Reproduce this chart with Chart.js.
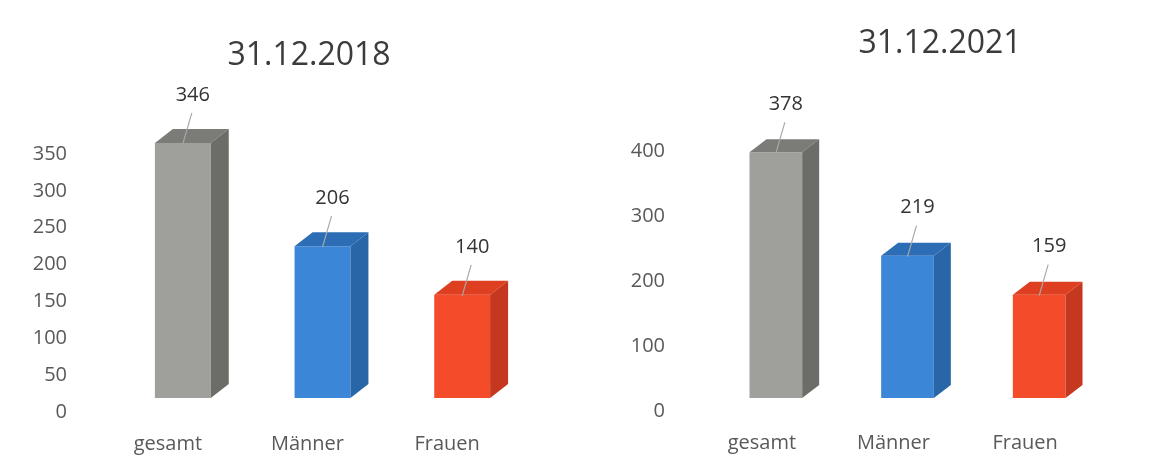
<!DOCTYPE html>
<html>
<head>
<meta charset="utf-8">
<script src="https://cdn.jsdelivr.net/npm/chart.js@4.4.1/dist/chart.umd.min.js"></script>
<style>
body{margin:0;background:#fff;width:1163px;height:468px;overflow:hidden;position:relative;font-family:"Open Sans",sans-serif}
.box{position:absolute;top:0;height:468px}
.title{position:absolute;font-size:32px;line-height:normal;color:#3b3b3b;transform:translateX(-50%);white-space:nowrap}
</style>
</head>
<body>
<div class="box" style="left:0;width:600px"><canvas id="c2018" width="600" height="468"></canvas></div>
<div class="box" style="left:600px;width:563px"><canvas id="c2021" width="563" height="468"></canvas></div>
<div class="title" style="left:309px;top:31px">31.12.2018</div>
<div class="title" style="left:940px;top:19px">31.12.2021</div>
<script>
var categories = ["gesamt", "Männer", "Frauen"];
var values2018 = [346, 206, 140];
var values2021 = [378, 219, 159];
var yMax2018 = 350, yStep2018 = 50;
var yMax2021 = 400, yStep2021 = 100;

// front / top / side faces of the 3d boxes
var frontColors = ["#9f9f9b", "#3b86d6", "#f44c2b"];
var topColors   = ["#7b7b77", "#2c6db5", "#de3f20"];
var sideColors  = ["#6c6c68", "#2966a7", "#c5381f"];

// draws the bars as boxes plus the value labels with their leader lines
var box3d = {
    id: "box3d",
    beforeDatasetsDraw: function(chart, args, opts){
        chart.ctx.save();
        chart.ctx.translate(opts.shiftX, opts.shiftY);
    },
    afterDatasetsDraw: function(chart, args, opts){
        var ctx = chart.ctx;
        var meta = chart.getDatasetMeta(0);
        var vals = chart.data.datasets[0].data;
        meta.data.forEach(function(bar, i){
            var L = bar.x - bar.width/2, R = bar.x + bar.width/2;
            var T = bar.y, B = bar.base;
            var dx = opts.depthX, dy = opts.depthY;
            ctx.fillStyle = topColors[i];
            ctx.beginPath();
            ctx.moveTo(L, T); ctx.lineTo(L+dx, T+dy); ctx.lineTo(R+dx, T+dy); ctx.lineTo(R, T);
            ctx.closePath(); ctx.fill();
            ctx.fillStyle = sideColors[i];
            ctx.beginPath();
            ctx.moveTo(R, T); ctx.lineTo(R+dx, T+dy); ctx.lineTo(R+dx, B+dy); ctx.lineTo(R, B);
            ctx.closePath(); ctx.fill();

            // leader line + value
            ctx.strokeStyle = "#a9a9a9";
            ctx.lineWidth = 1.2;
            ctx.beginPath();
            ctx.moveTo(bar.x + 9, T - 30);
            ctx.lineTo(bar.x, T + 1);
            ctx.stroke();
            ctx.fillStyle = "#333333";
            ctx.font = "20px 'Open Sans'";
            ctx.textAlign = "center";
            ctx.textBaseline = "middle";
            ctx.fillText(String(vals[i]), bar.x + 10, T - 48);
        });
        ctx.restore();
    }
};

function makeChart(id, values, yMax, yStep, o){
    return new Chart(document.getElementById(id), {
        type: "bar",
        data: {
            labels: categories,
            datasets: [{
                data: values,
                backgroundColor: frontColors,
                borderWidth: 0,
                barPercentage: 0.4,
                categoryPercentage: 1,
                clip: false
            }]
        },
        options: {
            responsive: false,
            animation: false,
            events: [],
            layout: {padding: {top: o.top, right: o.right, left: 0, bottom: 0}},
            plugins: {
                legend: {display: false},
                tooltip: {enabled: false},
                box3d: {shiftX: o.shiftX, shiftY: o.shiftY, depthX: o.depthX, depthY: o.depthY}
            },
            scales: {
                x: {
                    grid: {display: false},
                    border: {display: false},
                    ticks: {color: "#595959", font: {family: "Open Sans", size: 20}, padding: 12},
                    afterFit: function(s){ s.height = o.xHeight; }
                },
                y: {
                    min: 0, max: yMax,
                    grid: {display: false},
                    border: {display: false},
                    ticks: {stepSize: yStep, color: "#595959", font: {family: "Open Sans", size: 20}, padding: 23},
                    afterFit: function(s){ s.width = o.yWidth; }
                }
            }
        },
        plugins: [box3d]
    });
}

makeChart("c2018", values2018, yMax2018, yStep2018,
    {top: 154, right: 83, xHeight: 56, yWidth: 98, shiftX: 15, shiftY: -14, depthX: 18, depthY: -14});
makeChart("c2021", values2021, yMax2021, yStep2021,
    {top: 151, right: 72, xHeight: 57, yWidth: 96, shiftX: 14, shiftY: -13, depthX: 17, depthY: -13});
</script>
</body>
</html>
